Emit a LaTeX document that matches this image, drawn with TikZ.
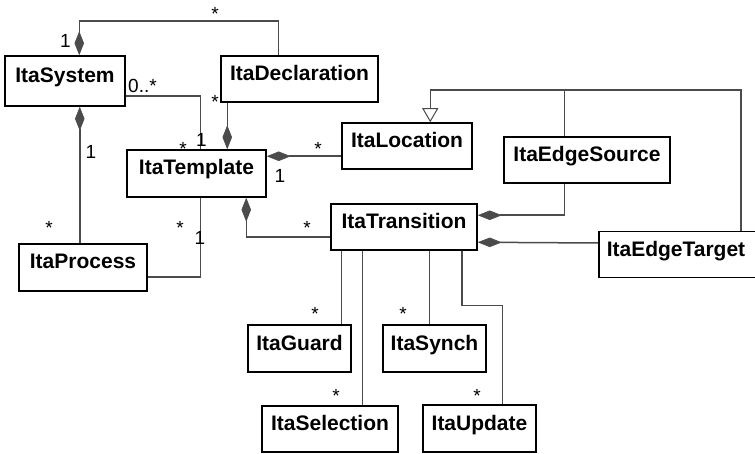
\documentclass[tikz,border=0pt]{standalone}
\usepackage{fontspec}
\setmainfont{Liberation Sans}
\usetikzlibrary{arrows.meta}
\definecolor{lgray}{RGB}{75,75,75}
\tikzset{
  cls/.style={draw=black, line width=1.5pt, inner sep=0pt, align=center,
    text height=15pt, text depth=12pt,
    font=\fontsize{21}{24}\selectfont\bfseries},
  conn/.style={draw=lgray, line width=1.5pt},
  comp/.style={conn, {Diamond[length=24pt,width=9.5pt,fill=lgray,color=lgray,line width=0.6pt]}-},
  gen/.style={conn, {Triangle[open,length=14pt,width=16pt,fill=white,color=lgray,line width=1pt]}-},
  lbl/.style={anchor=base, inner sep=0pt, font=\fontsize{19}{22}\selectfont}
}
\begin{document}
\begin{tikzpicture}[x=1pt,y=-1pt]
\useasboundingbox (0,0) rectangle (755,454);
% classes
\node[cls, minimum width=120pt, minimum height=50pt] (sys) at (65,81) {ItaSystem};
\node[cls, minimum width=157pt, minimum height=46pt] (decl) at (299.5,79) {ItaDeclaration};
\node[cls, minimum width=139pt, minimum height=47pt] (tmpl) at (196.5,173.5) {ItaTemplate};
\node[cls, minimum width=130pt, minimum height=46pt] (loc) at (407,146) {ItaLocation};
\node[cls, minimum width=166pt, minimum height=46pt] (esrc) at (587,160) {ItaEdgeSource};
\node[cls, minimum width=146pt, minimum height=46pt] (trans) at (404,227) {ItaTransition};
\node[cls, minimum width=162pt, minimum height=46pt, text width=146pt, align=left, inner xsep=8pt, anchor=north west] (etgt) at (598,231) {ItaEdgeTarget};
\node[cls, minimum width=128pt, minimum height=47pt] (proc) at (83,267.5) {ItaProcess};
\node[cls, minimum width=103pt, minimum height=47pt] (guard) at (299.5,348.5) {ItaGuard};
\node[cls, minimum width=103pt, minimum height=47pt] (synch) at (434.5,348.5) {ItaSynch};
\node[cls, minimum width=136pt, minimum height=46pt] (sel) at (330,429) {ItaSelection};
\node[cls, minimum width=113pt, minimum height=47pt] (upd) at (479.5,428.5) {ItaUpdate};
% connectors
\draw[comp] ([xshift=75pt]sys.north west) -- ++(0,-34) -| ([xshift=58pt]decl.north west);
\draw[conn] ([yshift=-15pt]sys.east) -| ([xshift=74pt]tmpl.north west);
\draw[comp] ([xshift=101pt]tmpl.north west) -- ([xshift=7pt]decl.south west);
\draw[comp] ([yshift=-7pt]tmpl.north east) -- ([yshift=-34pt]loc.north west);
\draw[comp] ([xshift=75.5pt]sys.south west) -- ([xshift=61.5pt]proc.north west);
\draw[conn] ([xshift=74pt]tmpl.south west) |- ([yshift=-34pt]proc.north east);
\draw[comp] ([xshift=120pt]tmpl.south west) |- ([yshift=-34pt]trans.north west);
\draw[comp] ([yshift=-12pt]trans.north east) -| ([xshift=61pt]esrc.south west);
\draw[comp] ([yshift=-39pt]trans.north east) -- ([yshift=-12pt]etgt.north west);
\draw[gen] ([xshift=89pt]loc.north west) -- ++(0,-32) -| ([xshift=143pt]etgt.north west);
\draw[conn] ([xshift=61pt]esrc.north west) -- ++(0,-46);
\draw[conn] ([xshift=11pt]trans.south west) -- ([xshift=94pt]guard.north west);
\draw[conn] ([xshift=32pt]trans.south west) -- ([xshift=101pt]sel.north west);
\draw[conn] ([xshift=99pt]trans.south west) -- ([xshift=47pt]synch.north west);
\draw[conn] ([xshift=131.5pt]trans.south west) -- ++(0,55) -| ([xshift=80pt]upd.north west);
% multiplicities
\node[lbl] (m1) at (215,21) {*};
\node[lbl] (m2) at (65.5,48) {1};
\node[lbl] (m3) at (142.5,92.5) {0..*};
\node[lbl] (m4) at (215,108.5) {*};
\node[lbl] (m5) at (201.5,147) {1};
\node[lbl] (m6) at (183,156) {*};
\node[lbl] (m7) at (91,159) {1};
\node[lbl] (m8) at (318,156) {*};
\node[lbl] (m9) at (280,183) {1};
\node[lbl] (m10) at (49,235) {*};
\node[lbl] (m11) at (180,235) {*};
\node[lbl] (m12) at (200,245) {1};
\node[lbl] (m13) at (307,235) {*};
\node[lbl] (m14) at (315,321) {*};
\node[lbl] (m15) at (403,321) {*};
\node[lbl] (m16) at (336,402) {*};
\node[lbl] (m17) at (477,402) {*};
\end{tikzpicture}
\end{document}
